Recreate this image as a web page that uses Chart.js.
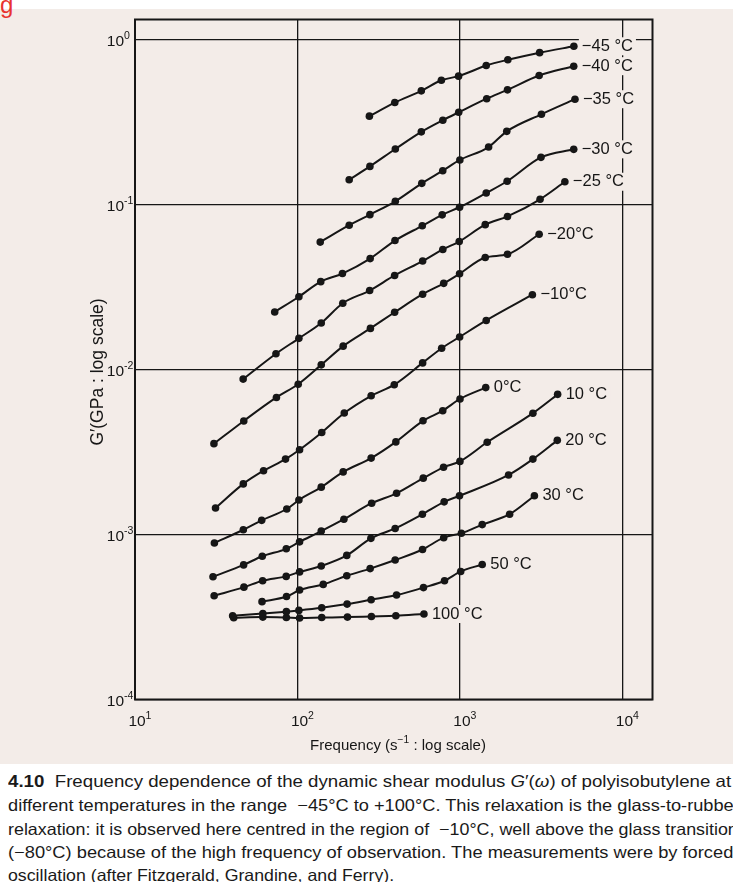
<!DOCTYPE html>
<html>
<head>
<meta charset="utf-8">
<script src="https://cdn.jsdelivr.net/npm/chart.js@4.4.1/dist/chart.umd.min.js"></script>
<style>
  body { margin: 0; background: #fff; font-family: "Liberation Sans", Arial, sans-serif; }
  #page { position: relative; width: 733px; height: 882px; overflow: hidden; background: #fff; }
  #paper { position: absolute; left: 0; top: 9px; width: 733px; height: 755px; background: #f3ece8; }
  #chart { position: absolute; left: 0; top: 0; }
  #red { position: absolute; left: 0; top: -9px; color: #e8332f; font-size: 24px; }
  .cap { position: absolute; left: 8px; white-space: nowrap; font-size: 16.5px; color: #1a1a1a; transform-origin: 0 0; }
</style>
</head>
<body>
<div id="page">
  <div id="paper"></div>
  <div id="red">g</div>
  <canvas id="chart" width="733" height="765"></canvas>
  <div class="cap" data-w="723" style="top:772px"><b>4.10</b>&nbsp; Frequency dependence of the dynamic shear modulus <i>G</i>′(<i>ω</i>) of polyisobutylene at</div>
  <div class="cap" data-w="732" style="top:796px">different temperatures in the range &nbsp;−45°C to +100°C. This relaxation is the glass-to-rubber</div>
  <div class="cap" data-w="730" style="top:820px">relaxation: it is observed here centred in the region of &nbsp;−10°C, well above the glass transition</div>
  <div class="cap" data-w="725" style="top:843px">(−80°C) because of the high frequency of observation. The measurements were by forced</div>
  <div class="cap" data-w="386" style="top:866px">oscillation (after Fitzgerald, Grandine, and Ferry).</div>
</div>
<script>
const PAPER = '#f3ece8';
const INK = '#161616';
const FONT = '"Liberation Sans", Arial, sans-serif';

// temperatures (curve labels)
const TEMPS = ['−45 °C', '−40 °C', '−35 °C', '−30 °C', '−25 °C', '−20°C', '−10°C', '0°C', '10 °C', '20 °C', '30 °C', '50 °C', '100 °C'];

// frequency (s^-1) and G' (GPa)
const F_M45 = [277, 397, 578, 768, 980, 1450, 1970, 3090, 5020];
const G_M45 = [0.345, 0.417, 0.491, 0.569, 0.603, 0.699, 0.758, 0.837, 0.915];
const F_M40 = [208, 279, 400, 578, 784, 982, 1460, 1960, 3070, 5010];
const G_M40 = [0.142, 0.171, 0.218, 0.277, 0.326, 0.364, 0.440, 0.498, 0.608, 0.693];
const F_M35 = [138, 208, 279, 400, 582, 783, 998, 1500, 1940, 3170, 5100];
const G_M35 = [0.0594, 0.0752, 0.0872, 0.105, 0.135, 0.161, 0.187, 0.224, 0.279, 0.354, 0.437];
const F_M30 = [72.4, 102, 139, 189, 280, 398, 586, 777, 994, 1450, 1950, 3150, 5010];
const G_M30 = [0.0224, 0.0277, 0.0342, 0.0383, 0.0472, 0.0607, 0.0746, 0.0869, 0.0967, 0.118, 0.139, 0.194, 0.217];
const F_M25 = [46.3, 73.7, 102, 140, 190, 278, 396, 589, 784, 989, 1430, 1960, 3110, 4420];
const G_M25 = [0.00877, 0.0125, 0.0155, 0.0192, 0.0253, 0.0302, 0.0373, 0.0456, 0.0536, 0.0599, 0.0758, 0.085, 0.108, 0.138];
const F_M20 = [30.6, 46.7, 74.2, 101, 140, 191, 281, 396, 589, 794, 994, 1430, 1960, 3070];
const G_M20 = [0.00356, 0.00489, 0.00679, 0.00817, 0.0107, 0.0139, 0.0178, 0.0223, 0.0287, 0.0334, 0.0382, 0.0479, 0.0501, 0.0663];
const F_M10 = [31.3, 46.4, 61.8, 84.4, 103, 141, 194, 284, 394, 589, 771, 995, 1450, 2790];
const G_M10 = [0.00145, 0.00203, 0.00244, 0.00287, 0.00327, 0.00416, 0.00546, 0.00695, 0.00811, 0.0110, 0.0135, 0.0158, 0.0199, 0.0285];
const F_P0 = [30.8, 46.4, 60.2, 85.9, 102, 140, 191, 284, 403, 592, 783, 1000, 1440];
const G_P0 = [0.000889, 0.00107, 0.00122, 0.00143, 0.00162, 0.00194, 0.00240, 0.00291, 0.00365, 0.00490, 0.00564, 0.00665, 0.00779];
const F_P10 = [30.2, 46.6, 60.7, 85.3, 103, 140, 193, 286, 407, 594, 792, 999, 1470, 2810, 3990];
const G_P10 = [0.000555, 0.000655, 0.000739, 0.00082, 0.000904, 0.00105, 0.00124, 0.00155, 0.00178, 0.0022, 0.00256, 0.00278, 0.00363, 0.00545, 0.00709];
const F_P20 = [30.7, 46.8, 61.0, 85.2, 103, 140, 201, 283, 399, 587, 799, 993, 1990, 2810, 3970];
const G_P20 = [0.000426, 0.00048, 0.000525, 0.000558, 0.000594, 0.000645, 0.000748, 0.000949, 0.00109, 0.00133, 0.00158, 0.00172, 0.0023, 0.00287, 0.00373];
const F_P30 = [60.5, 85.6, 103, 144, 201, 280, 399, 588, 794, 1020, 1370, 2020, 2870];
const G_P30 = [0.000392, 0.000421, 0.000461, 0.000499, 0.000563, 0.000622, 0.000701, 0.000812, 0.000958, 0.00102, 0.00115, 0.00133, 0.00172];
const F_P50 = [39.9, 61.2, 85.4, 102, 141, 202, 284, 407, 596, 803, 1010, 1370];
const G_P50 = [0.000322, 0.000332, 0.000341, 0.000347, 0.00036, 0.000379, 0.000403, 0.00043, 0.000477, 0.000525, 0.000598, 0.000659];
const F_P100 = [40.5, 61.2, 85.4, 103, 141, 203, 285, 403, 600];
const G_P100 = [0.000313, 0.000316, 0.000314, 0.000312, 0.000314, 0.000316, 0.000319, 0.000322, 0.00033];

const FREQS = [F_M45, F_M40, F_M35, F_M30, F_M25, F_M20, F_M10, F_P0, F_P10, F_P20, F_P30, F_P50, F_P100];
const MODULI = [G_M45, G_M40, G_M35, G_M30, G_M25, G_M20, G_M10, G_P0, G_P10, G_P20, G_P30, G_P50, G_P100];

// decade ticks
const X_TICKS = [10, 100, 1000, 10000];
const X_EXP = ['1', '2', '3', '4'];
const Y_TICKS = [1, 0.1, 0.01, 0.001, 0.0001];
const Y_EXP = ['0', '-1', '-2', '-3', '-4'];

function isDecade(v) {
  const l = Math.log10(v);
  return Math.abs(l - Math.round(l)) < 1e-6;
}

// draws a run of text pieces, some of them raised as superscripts
function drawRich(ctx, parts, x, y, size, align) {
  const widths = parts.map(p => {
    ctx.font = (p.sup ? size * 0.68 : size) + 'px ' + FONT;
    return ctx.measureText(p.t).width;
  });
  const total = widths.reduce((a, b) => a + b, 0);
  let cx = align === 'center' ? x - total / 2 : align === 'right' ? x - total : x;
  parts.forEach((p, i) => {
    ctx.font = (p.sup ? size * 0.68 : size) + 'px ' + FONT;
    ctx.fillText(p.t, cx, p.sup ? y - size * 0.42 : y);
    cx += widths[i];
  });
}

const decorations = {
  id: 'decorations',
  afterDatasetsDraw(chart) {
    const ctx = chart.ctx;
    const { left, right, top, bottom } = chart.chartArea;
    const xs = chart.scales.x, ys = chart.scales.y;
    ctx.save();

    // frame
    ctx.strokeStyle = INK;
    ctx.lineWidth = 2;
    ctx.strokeRect(left, top, right - left, bottom - top);

    // curve labels at the last point of each curve
    ctx.textBaseline = 'middle';
    ctx.font = '16.5px ' + FONT;
    chart.data.datasets.forEach((ds, i) => {
      const pts = chart.getDatasetMeta(i).data;
      const last = pts[pts.length - 1];
      const x = last.x + 8, y = last.y;
      const w = ctx.measureText(ds.label).width;
      ctx.fillStyle = PAPER;
      ctx.fillRect(x - 3, y - 9, w + 6, 18);
      ctx.fillStyle = INK;
      ctx.fillText(ds.label, x, y);
    });

    // tick labels
    ctx.fillStyle = INK;
    ctx.textBaseline = 'alphabetic';
    X_TICKS.forEach((v, i) => {
      const px = xs.getPixelForValue(v);
      ctx.font = '15.5px ' + FONT;
      const w = ctx.measureText('10').width;
      drawRich(ctx, [{ t: '10' }, { t: X_EXP[i], sup: true }], px - w / 2 + 2, bottom + 26, 15.5, 'left');
    });
    Y_TICKS.forEach((v, i) => {
      const py = ys.getPixelForValue(v);
      ctx.font = '15.5px ' + FONT;
      const w = ctx.measureText('10').width;
      drawRich(ctx, [{ t: '10' }, { t: Y_EXP[i], sup: true }], left - 11 - w, py + 6, 15.5, 'left');
    });

    // axis titles
    drawRich(ctx, [{ t: 'Frequency (s' }, { t: '−1', sup: true }, { t: ' : log scale)' }], 398, bottom + 50, 15, 'center');
    ctx.translate(103, 372);
    ctx.rotate(-Math.PI / 2);
    drawRich(ctx, [{ t: 'G′(GPa : log scale)' }], 0, 0, 17.5, 'center');
    ctx.restore();
  }
};

const datasets = TEMPS.map((label, i) => ({
  label,
  data: FREQS[i].map((f, j) => ({ x: f, y: MODULI[i][j] })),
  borderColor: INK,
  backgroundColor: INK,
  borderWidth: 2,
  pointRadius: 3.8,
  pointBorderWidth: 0,
  cubicInterpolationMode: 'monotone',
}));

new Chart(document.getElementById('chart').getContext('2d'), {
  type: 'line',
  data: { datasets },
  options: {
    responsive: false,
    animation: false,
    layout: { padding: { left: 135, right: 80.5, top: 19.5, bottom: 65.5 } },
    plugins: { legend: { display: false }, tooltip: { enabled: false } },
    scales: {
      x: {
        type: 'logarithmic',
        min: 10,
        max: 15300,
        afterBuildTicks: scale => { scale.ticks = scale.ticks.filter(t => isDecade(t.value)); },
        ticks: { display: false },
        grid: { color: INK, lineWidth: 1.3, drawTicks: false },
        border: { display: false },
      },
      y: {
        type: 'logarithmic',
        min: 0.0001,
        max: 1.33,
        afterBuildTicks: scale => { scale.ticks = scale.ticks.filter(t => isDecade(t.value)); },
        ticks: { display: false },
        grid: { color: INK, lineWidth: 1.3, drawTicks: false },
        border: { display: false },
      },
    },
  },
  plugins: [decorations],
});

// stretch or squeeze each caption line to its printed width
document.querySelectorAll('.cap').forEach(el => {
  const s = parseFloat(el.dataset.w) / el.getBoundingClientRect().width;
  el.style.transform = 'scaleX(' + s.toFixed(3) + ')';
});
</script>
</body>
</html>
